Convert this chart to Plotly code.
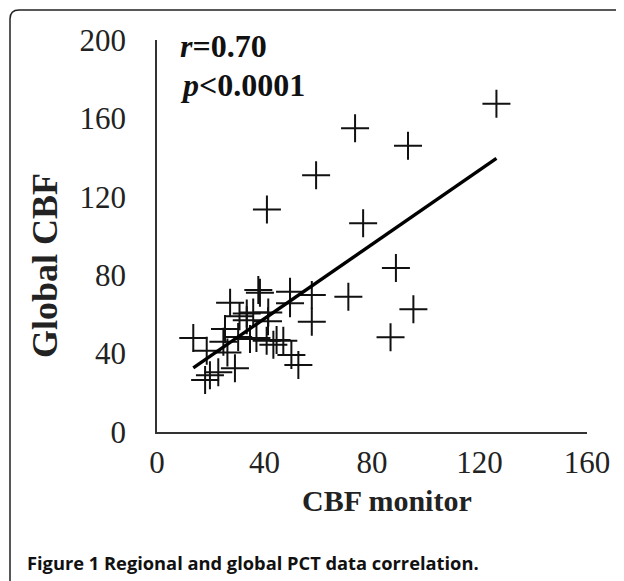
import plotly.graph_objects as go
import numpy as np

# Data
cbf_monitor = [126.3, 73.7, 93.4, 59.2, 40.9, 76.7, 88.9, 95.4, 86.9, 71.2,
               13.5, 17.9, 19.7, 22.8, 18.5, 24.7, 26.2, 25.3, 27.2, 29.0,
               30.2, 30.7, 33.4, 33.4, 34.6, 35.8, 37.0, 37.7, 38.3, 40.8,
               41.4, 41.3, 43.3, 44.5, 47.0, 49.5, 49.5, 50.0, 52.6, 57.6, 57.6]
global_cbf = [167.5, 155.0, 146.0, 131.0, 113.5, 106.5, 83.7, 62.6, 48.3, 69.0,
              48.0, 26.5, 29.0, 30.5, 41.5, 46.0, 40.5, 52.5, 66.0, 32.5,
              48.5, 59.0, 57.0, 60.5, 47.5, 61.0, 48.0, 72.5, 71.0, 46.5,
              61.0, 56.5, 44.5, 47.0, 46.5, 71.5, 65.7, 39.3, 34.2, 69.9, 56.3]
fit_slope = 0.948
fit_intercept = 19.9
x_ticks = [0, 40, 80, 120, 160]
y_ticks = [0, 40, 80, 120, 160, 200]

OFF = 8  # page body margin offset
W, H = 624 - OFF, 581 - OFF
L, R, T, B = 157 - OFF, 587 - OFF, 40 - OFF, 432 - OFF  # plot area pixels


def px(xp):
    return (xp - OFF - L) / (R - L)


def py(yp):
    return (B - (yp - OFF)) / (B - T)


fig = go.Figure()
fig.add_trace(go.Scatter(
    x=cbf_monitor, y=global_cbf, mode="markers",
    marker=dict(symbol="cross-thin", size=20, line=dict(color="#111", width=2)),
    showlegend=False, hoverinfo="x+y"))

xf = np.array([min(cbf_monitor), max(cbf_monitor)])
fig.add_trace(go.Scatter(x=xf, y=fit_slope * xf + fit_intercept, mode="lines",
                         line=dict(color="#000", width=3.4), showlegend=False))

serif = "Liberation Serif, Times New Roman, serif"
fig.update_layout(
    width=W, height=H,
    margin=dict(l=L, r=W - R, t=T, b=H - B),
    paper_bgcolor="white", plot_bgcolor="white",
    font=dict(family=serif, color="#222"),
    xaxis=dict(range=[0, 160], tickvals=x_ticks, showgrid=False, zeroline=False,
               showline=True, linecolor="#333", linewidth=1.5, ticks="",
               ticklabelstandoff=2, tickfont=dict(size=31, family=serif, color="#222")),
    yaxis=dict(range=[0, 200], tickvals=y_ticks, showgrid=False, zeroline=False,
               showline=True, linecolor="#333", linewidth=1.5, ticks="",
               ticklabelstandoff=23, tickfont=dict(size=31, family=serif, color="#222")),
)

fig.add_annotation(xref="paper", yref="paper", x=px(387), y=py(500), text="<b>CBF monitor</b>",
                   showarrow=False, font=dict(size=30, family=serif, color="#222"),
                   xanchor="center", yanchor="middle")
fig.add_annotation(xref="paper", yref="paper", x=px(45), y=py(266), text="<b>Global CBF</b>",
                   showarrow=False, textangle=-90, font=dict(size=36, family=serif, color="#222"),
                   xanchor="center", yanchor="middle")
fig.add_annotation(xref="paper", yref="paper", x=px(178), y=py(46), text="<b><i>r</i>=0.70</b>",
                   showarrow=False, font=dict(size=32, family=serif, color="#111"),
                   xanchor="left", yanchor="middle")
fig.add_annotation(xref="paper", yref="paper", x=px(178), y=py(85), text="<b><i>p</i>&lt;0.0001</b>",
                   showarrow=False, font=dict(size=32, family=serif, color="#111"),
                   xanchor="left", yanchor="middle")
fig.add_annotation(xref="paper", yref="paper", x=px(25), y=py(562),
                   text="<b>Figure 1 Regional and global PCT data correlation.</b>",
                   showarrow=False, font=dict(size=18.3, family="Open Sans, sans-serif", color="#111"),
                   xanchor="left", yanchor="middle")

# rounded frame
r = 9
x0, y0, x1, y1 = 10, 10, 640, 600
path = (f"M {px(x0)},{py(y1)} L {px(x0)},{py(y0 + r)} "
        f"Q {px(x0)},{py(y0)} {px(x0 + r)},{py(y0)} L {px(x1)},{py(y0)}")
fig.add_shape(type="path", xref="paper", yref="paper", path=path,
              line=dict(color="#222", width=1.5), layer="above")

fig.write_html("out.html")
